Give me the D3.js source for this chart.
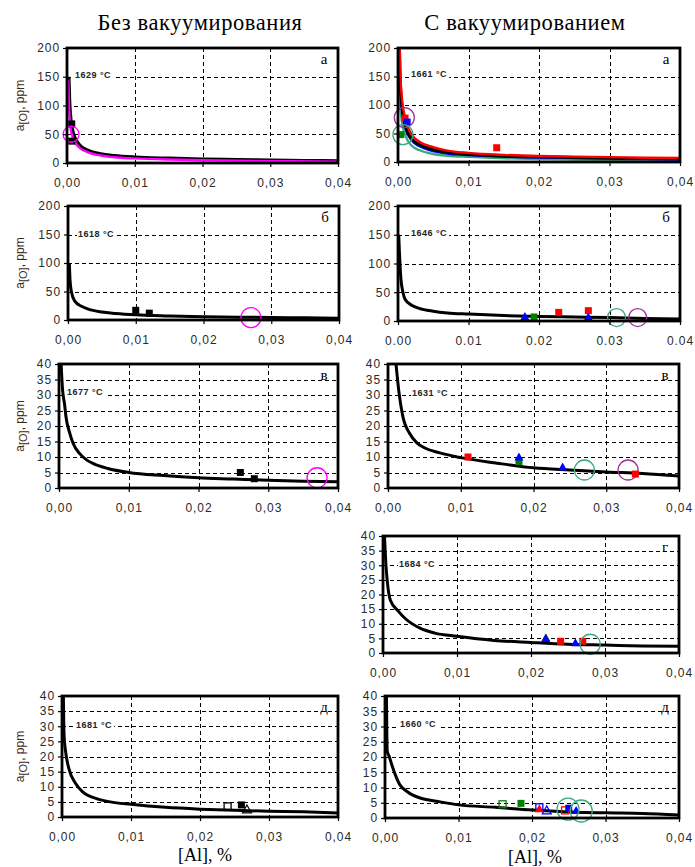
<!DOCTYPE html>
<html><head><meta charset="utf-8">
<script src="https://cdn.jsdelivr.net/npm/d3@7"></script>
<style>body{margin:0;background:#fff}svg{display:block}</style>
</head><body>
<svg id="c" width="695" height="867"></svg>
<script>
// ---------------- DATA ----------------
const columnTitles = ["Без вакуумирования", "С вакуумированием"];
const xAxisTitle = "[Al], %";
const xTicks = [0, 0.01, 0.02, 0.03, 0.04];
const yTicks200 = [0, 50, 100, 150, 200];
const yTicks40 = [0, 5, 10, 15, 20, 25, 30, 35, 40];
const panelLetters = ["а", "а", "б", "б", "в", "в", "г", "д", "д"];
const temperatures = ["1629 °C", "1661 °C", "1618 °C", "1646 °C", "1677 °C", "1631 °C", "1684 °C", "1681 °C", "1660 °C"];

// equilibrium curves: [Al %, a[O] ppm]
const curveL1Black = [[0.0003,150],[0.0004,110],[0.0006,75],[0.001,50],[0.0015,38],[0.002,30],[0.003,23],[0.005,16],[0.007,13],[0.01,10.5],[0.015,8.5],[0.02,7],[0.025,6],[0.03,5.2],[0.035,4.5],[0.04,3.8]];
const curveL1Magenta = [[0.0002,145],[0.0003,100],[0.0005,62],[0.001,40],[0.002,25],[0.003,19],[0.005,13],[0.007,10],[0.01,8],[0.015,6],[0.02,4.8],[0.03,3.3],[0.04,2.2]];
const curveR1Teal = [[0.0001,170],[0.0002,130],[0.0005,75],[0.001,48],[0.002,28],[0.003,21],[0.005,14],[0.007,11],[0.01,9],[0.015,6.5],[0.02,5],[0.025,4.5],[0.03,4],[0.035,3.5],[0.04,3]];
const curveR1Blue = [[0.0001,200],[0.0002,170],[0.0005,100],[0.001,62],[0.002,37],[0.003,28],[0.005,19],[0.007,15],[0.01,12],[0.015,9.5],[0.02,8],[0.025,7],[0.03,6],[0.035,5],[0.04,4.5]];
const curveR1Black = [[0.0002,200],[0.0003,150],[0.0005,105],[0.001,66],[0.002,40],[0.003,31],[0.005,22],[0.007,17],[0.01,13.5],[0.015,10.5],[0.02,9],[0.025,8],[0.03,7],[0.035,6],[0.04,5.5]];
const curveR1Red = [[0.00025,200],[0.0003,165],[0.0005,120],[0.001,78],[0.002,47],[0.003,36],[0.005,26],[0.007,20],[0.01,16],[0.015,12.5],[0.02,10.5],[0.025,9.5],[0.03,8.5],[0.035,7.5],[0.04,7]];
const curveL2Black = [[0.0002,100],[0.0003,70],[0.0005,50],[0.001,33],[0.002,24],[0.003,19],[0.005,14],[0.007,11.5],[0.01,9],[0.015,7],[0.02,5.5],[0.025,5],[0.03,4.3],[0.035,3.8],[0.04,3.2]];
const curveR2Black = [[0.0001,150],[0.0002,120],[0.0004,75],[0.0007,50],[0.001,38],[0.002,27],[0.003,22],[0.005,17],[0.007,14],[0.01,12],[0.015,9.5],[0.02,8],[0.025,7],[0.03,6],[0.035,4.5],[0.04,3.5]];
const curveL3Black = [[0.0003,40],[0.0005,32],[0.0008,27],[0.001,23],[0.0015,18],[0.002,14.5],[0.003,11],[0.004,9],[0.005,7.8],[0.007,6.3],[0.01,5],[0.015,4],[0.02,3.3],[0.025,2.9],[0.03,2.5],[0.035,2.2],[0.04,2]];
const curveR3Black = [[0.0011,40],[0.0015,31],[0.002,23.5],[0.003,17.5],[0.004,14.5],[0.005,13],[0.007,11.4],[0.01,9.8],[0.015,8],[0.02,6.5],[0.025,5.8],[0.03,5.2],[0.035,4.7],[0.04,3.9]];
const curveR4Black = [[0.0002,40],[0.0004,30],[0.0006,24],[0.001,18],[0.002,14.5],[0.003,11.8],[0.005,8.5],[0.007,6.8],[0.01,5.7],[0.015,4.3],[0.02,3.6],[0.025,3],[0.03,2.7],[0.035,2.4],[0.04,2.3]];
const curveL5Black = [[0.0002,40],[0.0003,27],[0.0005,22],[0.001,16],[0.002,11],[0.003,8.3],[0.005,6.1],[0.007,5],[0.01,4.2],[0.015,3.2],[0.02,2.6],[0.025,2.2],[0.03,1.9],[0.035,1.7],[0.04,1.3]];
const curveR5Black = [[0.0002,40],[0.0003,22],[0.0006,20],[0.001,16.9],[0.002,11],[0.003,8.7],[0.005,6.4],[0.007,5.5],[0.01,4.3],[0.015,3.5],[0.02,2.6],[0.025,2],[0.03,1.7],[0.035,1.5],[0.04,1]];

// measured points: [Al %, a[O] ppm, series, marker]
const pointsL1 = [[0.0007,68,"black","sq"],[0.0007,38,"black","sq"],[0.0006,50,"magenta","circ"]];
const pointsR1 = [[0.0004,48,"green","sq"],[0.001,77,"red","sq"],[0.0013,70,"blue","sq"],[0.014,25,"red","sq"],[0.0009,78,"purple","circ"],[0.0007,48,"teal","circ"]];
const pointsL2 = [[0.01,17,"black","sq"],[0.012,12,"black","sq"],[0.027,4,"magenta","circ"]];
const pointsR2 = [[0.018,8,"blue","tri"],[0.0193,7,"green","sq"],[0.0228,15,"red","sq"],[0.027,18,"red","sq"],[0.027,7,"blue","tri"],[0.031,6,"teal","circ"],[0.034,6,"purple","circ"]];
const pointsL3 = [[0.026,5,"black","sq"],[0.028,3,"black","sq"],[0.037,3.3,"magenta","circ"]];
const pointsR3 = [[0.011,10,"red","sq"],[0.018,8.5,"green","sq"],[0.018,10,"blue","tri"],[0.024,6.8,"blue","tri"],[0.027,5.8,"teal","circ"],[0.033,5.8,"purple","circ"],[0.034,4.5,"red","sq"]];
const pointsR4 = [[0.022,5.2,"green","tri"],[0.022,5,"blue","tri"],[0.024,4,"red","sq"],[0.026,3.5,"blue","tri"],[0.027,4,"red","sq"],[0.028,3,"teal","circ"]];
const pointsL5 = [[0.024,3.5,"black","sqo"],[0.026,4,"black","sq"],[0.0268,2.5,"black","trio"]];
const pointsR5 = [[0.016,4.5,"green","sqo"],[0.0185,4.8,"green","sq"],[0.021,3.5,"blue","sqo"],[0.021,3,"red","tri"],[0.022,2.5,"blue","trio"],[0.0245,2.5,"red","sqo"],[0.025,3.2,"blue","sq"],[0.026,2.5,"blue","tri"],[0.0249,2.9,"teal","circ"],[0.0267,2.3,"teal","circ"]];

// ---------------- STYLE / LAYOUT ----------------
const colors = {black:"#000", red:"#ff0000", blue:"#0000ff", green:"#008000", teal:"#3aaa7e", purple:"#993399", magenta:"#ff00ff"};
const panels = [
  {box:[67,48,338,163], ymax:200, yt:yTicks200, curves:[[curveL1Black,"black"],[curveL1Magenta,"magenta"]], pts:pointsL1, ylab:true, tpos:[75,78], cr:8},
  {box:[398,48,680,162], ymax:200, yt:yTicks200, curves:[[curveR1Teal,"teal"],[curveR1Blue,"blue"],[curveR1Black,"black"],[curveR1Red,"red"]], pts:pointsR1, tpos:[411,77], cr:10},
  {box:[68,206,339,320], ymax:200, yt:yTicks200, curves:[[curveL2Black,"black"]], pts:pointsL2, ylab:true, tpos:[78,237], cr:10},
  {box:[398,206,680,321], ymax:200, yt:yTicks200, curves:[[curveR2Black,"black"]], pts:pointsR2, tpos:[411,236], cr:9, dot:true},
  {box:[59,364,338,488], ymax:40, yt:yTicks40, curves:[[curveL3Black,"black"]], pts:pointsL3, ylab:true, tpos:[67,395], cr:10},
  {box:[388,364,679,488], ymax:40, yt:yTicks40, curves:[[curveR3Black,"black"]], pts:pointsR3, tpos:[412,396], cr:10},
  {box:[383,536,679,653], ymax:40, yt:yTicks40, curves:[[curveR4Black,"black"]], pts:pointsR4, tpos:[399,567], cr:10},
  {box:[62,696,338,817], ymax:40, yt:yTicks40, curves:[[curveL5Black,"black"]], pts:pointsL5, ylab:true, tpos:[76,728], cr:10},
  {box:[385,696,679,818], ymax:40, yt:yTicks40, curves:[[curveR5Black,"black"]], pts:pointsR5, tpos:[400,727], cr:11}
];

const svg = d3.select("#c");
const defs = svg.append("defs");
const SANS = "'Liberation Sans', Arial, sans-serif";
const SERIF = "'Liberation Serif', 'Times New Roman', serif";

// column titles
svg.append("text").attr("x",200).attr("y",30).attr("text-anchor","middle").attr("font-family",SERIF).attr("font-size",22.5).attr("letter-spacing",0.6).text(columnTitles[0]);
svg.append("text").attr("x",525).attr("y",30).attr("text-anchor","middle").attr("font-family",SERIF).attr("font-size",22.5).attr("letter-spacing",0.6).text(columnTitles[1]);
// x titles
svg.append("text").attr("x",205).attr("y",861).attr("text-anchor","middle").attr("font-family",SERIF).attr("font-size",18).text(xAxisTitle);
svg.append("text").attr("x",535).attr("y",863).attr("text-anchor","middle").attr("font-family",SERIF).attr("font-size",18).text(xAxisTitle);

const fmtComma = d => d3.format(".2f")(d).replace(".", ",");
const fmtDot = d => d3.format(".2f")(d);
const crisp = v => Math.round(v) + 0.5;

panels.forEach((p, i) => {
  const [x0,y0,x1,y1] = p.box;
  const x = d3.scaleLinear().domain([0,0.04]).range([x0,x1]);
  const y = d3.scaleLinear().domain([0,p.ymax]).range([y1,y0]);
  const g = svg.append("g");

  // grid
  g.selectAll(".hg").data(p.yt.slice(1,-1)).join("line")
    .attr("x1",x0).attr("x2",x1).attr("y1",d=>crisp(y(d))).attr("y2",d=>crisp(y(d)))
    .attr("stroke","#000").attr("stroke-width",1).attr("stroke-dasharray","4,3");
  g.selectAll(".vg").data(xTicks.slice(1,-1)).join("line")
    .attr("x1",d=>crisp(x(d))).attr("x2",d=>crisp(x(d))).attr("y1",y0).attr("y2",y1)
    .attr("stroke","#000").attr("stroke-width",1).attr("stroke-dasharray","4,3");

  // temperature label with white background
  const tl = g.append("text").attr("x",p.tpos[0]).attr("y",p.tpos[1])
    .attr("font-family",SANS).attr("font-size",9).attr("font-weight","bold").attr("letter-spacing",0.5)
    .attr("fill","#222").text(temperatures[i]);
  const bb = tl.node().getBBox();
  g.insert("rect", "text").attr("x",bb.x-1).attr("y",bb.y).attr("width",bb.width+3).attr("height",bb.height).attr("fill","#fff");

  // letter
  g.append("text").attr("x",x1-14).attr("y",y0+16).attr("text-anchor","middle")
    .attr("font-family",SERIF).attr("font-size",15).text(panelLetters[i]);

  // curves
  defs.append("clipPath").attr("id","clip"+i).append("rect")
    .attr("x",x0).attr("y",y0).attr("width",x1-x0).attr("height",y1-y0);
  const line = d3.line().x(d=>x(d[0])).y(d=>y(d[1])).curve(d3.curveMonotoneX);
  const cg = g.append("g").attr("clip-path",`url(#clip${i})`);
  p.curves.forEach(([pts,c]) => {
    cg.append("path").attr("d",line(pts)).attr("fill","none")
      .attr("stroke",colors[c]).attr("stroke-width", c==="black" ? 3 : 2.4);
  });

  // markers
  p.pts.forEach(([vx,vy,s,m]) => {
    const cx = x(vx), cy = y(vy), col = colors[s];
    if (m==="sq" || m==="sqo") {
      g.append("rect").attr("x",cx-3.5).attr("y",cy-3.5).attr("width",7).attr("height",7)
        .attr("fill", m==="sq" ? col : "none").attr("stroke",col).attr("stroke-width", m==="sq"?0:1.3);
    } else if (m==="tri" || m==="trio") {
      g.append("path").attr("d",`M${cx},${cy-4.5}L${cx+4.5},${cy+3.5}L${cx-4.5},${cy+3.5}Z`)
        .attr("fill", m==="tri" ? col : "none").attr("stroke",col).attr("stroke-width", m==="tri"?0:1.2);
    } else if (m==="circ") {
      g.append("circle").attr("cx",cx).attr("cy",cy).attr("r",p.cr)
        .attr("fill","none").attr("stroke",col).attr("stroke-width",1.3);
    }
  });

  // frame
  g.append("rect").attr("x",x0).attr("y",y0).attr("width",x1-x0).attr("height",y1-y0)
    .attr("fill","none").attr("stroke","#000").attr("stroke-width",2.8);

  // axes
  const ax = g.append("g").attr("transform",`translate(0,${y1})`)
    .call(d3.axisBottom(x).tickValues(xTicks).tickFormat(p.dot?fmtDot:fmtComma).tickSize(4).tickPadding(11));
  const ay = g.append("g").attr("transform",`translate(${x0},0)`)
    .call(d3.axisLeft(y).tickValues(p.yt).tickFormat(d3.format("d")).tickSize(4).tickPadding(3));
  [ax,ay].forEach(a => {
    a.select(".domain").remove();
    a.selectAll("line").attr("stroke","#000").attr("stroke-width",1.2);
    a.selectAll("text").attr("font-family",SANS).attr("font-size",12).attr("letter-spacing",0.9).attr("fill","#2a2a2a");
  });

  // y label
  if (p.ylab) {
    const cyl = (y0+y1)/2;
    const t = svg.append("text").attr("transform",`translate(24,${cyl}) rotate(-90)`)
      .attr("text-anchor","middle").attr("font-family",SANS).attr("font-size",12).attr("fill","#3a2a1a");
    t.append("tspan").text("a");
    t.append("tspan").attr("dy",3).attr("font-size",11).text("[O]");
    t.append("tspan").attr("dy",-3).text(", ppm");
  }
});
</script>
</body></html>
